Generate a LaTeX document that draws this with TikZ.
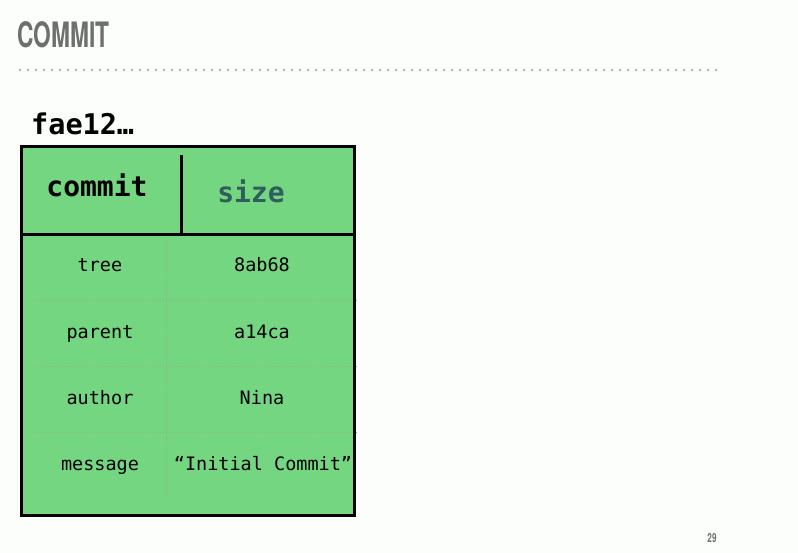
\documentclass[tikz,border=0pt]{standalone}
\usepackage{fontspec}
\usepackage{xcolor}
\setmonofont{DejaVu Sans Mono}
\newfontfamily\titlefont[FakeStretch=0.65]{TeX Gyre Heros}
\definecolor{slidebg}{HTML}{FBFEFB}
\definecolor{titlegray}{HTML}{6D706D}
\definecolor{commitgreen}{HTML}{74D680}
\definecolor{sizeteal}{HTML}{2F5E5C}
\definecolor{gridgray}{HTML}{8FB38F}

\tikzset{
  fieldkey/.style={anchor=base, inner sep=0pt, font=\ttfamily\fontsize{18.5}{22}\selectfont},
  fieldval/.style={fieldkey},
  headcell/.style={anchor=base, inner sep=0pt, font=\ttfamily\bfseries\fontsize{28}{32}\selectfont},
  gridline/.style={gridgray, line width=0.8pt, dotted}
}

\begin{document}
\begin{tikzpicture}[x=1pt,y=-1pt]
\useasboundingbox[fill=slidebg] (0,0) rectangle (798,553);

% Title
\node[anchor=base west, inner sep=0pt, text=titlegray] (title) at (17,48)
  {\titlefont\bfseries\fontsize{35}{40}\selectfont COMMIT};
\draw[titlegray!85, line width=2pt, line cap=round, dash pattern=on 0pt off 8pt]
  (20,70) -- (722,70);

% Object hash
\node[anchor=base west, inner sep=0pt] (hash) at (31,135)
  {\ttfamily\bfseries\fontsize{28.5}{32}\selectfont fae12…};

% Box
\fill[commitgreen] (21.5,146.5) rectangle (354.5,515);

% Field grid
\draw[gridline] (34,300) -- (358,300);
\draw[gridline] (34,366) -- (358,366);
\draw[gridline] (34,432) -- (358,432);
\draw[gridline] (166,235) -- (166,498);

% Header
\draw[line width=3pt] (21.5,146.5) rectangle (354.5,515);
\draw[line width=3pt] (21.5,235) -- (354.5,235);
\draw[line width=3pt] (181,155) -- (181,235);
\node[headcell] (type) at (97,197) {commit};
\node[headcell, text=sizeteal] (size) at (251,203) {size};

% Fields
\node[fieldkey] (tree) at (100,272) {tree};
\node[fieldval] (treeval) at (262,272) {8ab68};
\node[fieldkey] (parent) at (100,338) {parent};
\node[fieldval] (parentval) at (262,338) {a14ca};
\node[fieldkey] (author) at (100,404) {author};
\node[fieldval] (authorval) at (262,404) {Nina};
\node[fieldkey] (message) at (100,470) {message};
\node[fieldval] (messageval) at (263,470) {“Initial Commit”};

% Page number
\node[anchor=base, inner sep=0pt, text=titlegray] (page) at (712,542)
  {\titlefont\bfseries\fontsize{12.5}{14}\selectfont 29};

\end{tikzpicture}
\end{document}
